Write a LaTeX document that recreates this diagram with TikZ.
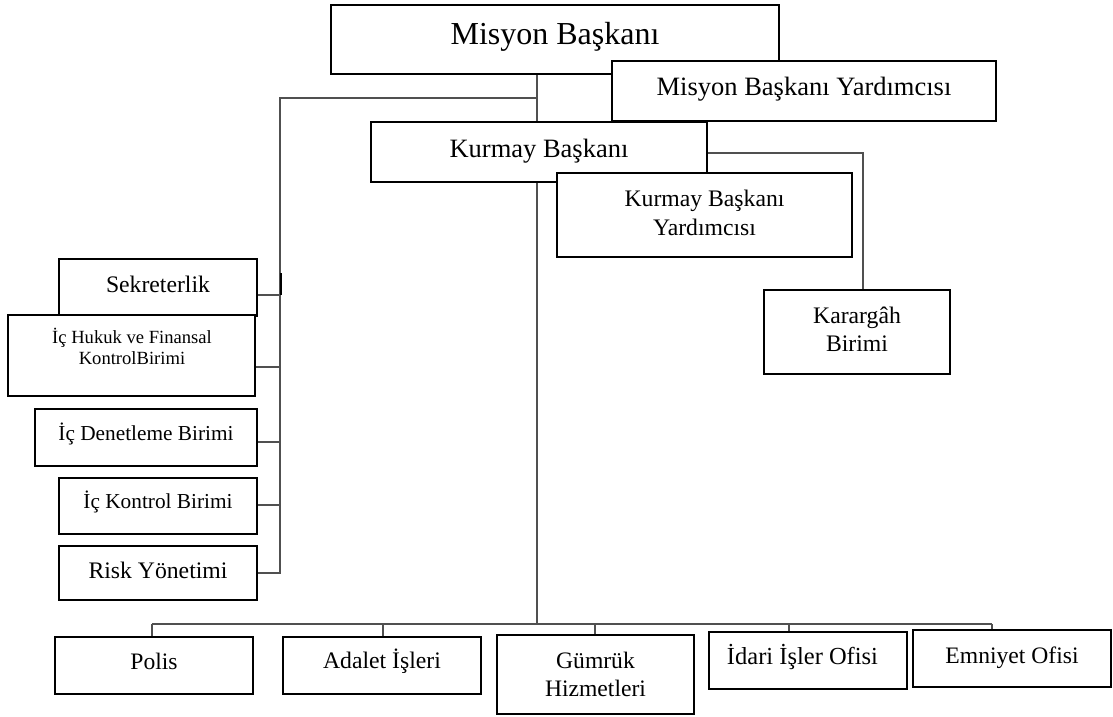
\documentclass[tikz,border=0pt]{standalone}
\usepackage{fontspec}
\setmainfont{Liberation Serif}
\usetikzlibrary{backgrounds}
\definecolor{conngray}{HTML}{505050}
\newcommand{\ubox}[5]{\node[box, minimum width={(#4-#2)*1pt}, minimum height={(#5-#3)*1pt}] (#1) at ({(#2+#4)/2},{(#3+#5)/2}) {};}
\newcommand{\fs}[1]{\fontsize{#1}{#1}\selectfont}
\begin{document}
\begin{tikzpicture}[x=1pt,y=-1pt,
  box/.style={draw=black, line width=2pt, fill=white, inner sep=0pt},
  txt/.style={inner sep=0pt, anchor=base},
  conn/.style={draw=conngray, line width=1.3pt},
  busline/.style={draw=conngray, line width=1.7pt},
  tickline/.style={draw=black, line width=1.8pt}]
\useasboundingbox (0,0) rectangle (1113,717);
% boxes
\ubox{mb}{331}{5}{779}{74}
\ubox{mby}{612}{61}{996}{121}
\ubox{kb}{371}{122}{707}{182}
\ubox{kby}{557}{173}{852}{257}
\ubox{kar}{764}{290}{950}{374}
\ubox{sek}{59}{259}{257}{316}
\ubox{ich}{8}{315}{255}{396}
\ubox{icd}{35}{409}{257}{466}
\ubox{ick}{59}{478}{257}{534}
\ubox{risk}{59}{546}{257}{600}
\ubox{pol}{55}{637}{253}{694}
\ubox{ada}{283}{637}{481}{694}
\ubox{gum}{497}{635}{694}{714}
\ubox{ida}{709}{632}{907}{689}
\ubox{emn}{913}{630}{1111}{687}
% texts
\node[txt, font=\fs{32}] (t-mb) at (555,45) {Misyon Başkanı};
\node[txt, font=\fs{26.5}] (t-mby) at (804,95) {Misyon Başkanı Yardımcısı};
\node[txt, font=\fs{26.5}] (t-kb) at (539,157) {Kurmay Başkanı};
\node[txt, font=\fs{23.7}] (t-kby1) at (704.5,206) {Kurmay Başkanı};
\node[txt, font=\fs{23.7}] (t-kby2) at (704.5,235) {Yardımcısı};
\node[txt, font=\fs{23.7}] (t-kar1) at (857,323) {Karargâh};
\node[txt, font=\fs{23.7}] (t-kar2) at (857,351) {Birimi};
\node[txt, font=\fs{23.7}] (t-sek) at (158,292) {Sekreterlik};
\node[txt, font=\fs{18.6}] (t-ich1) at (132,343) {İç Hukuk ve Finansal};
\node[txt, font=\fs{18.6}] (t-ich2) at (132,364) {KontrolBirimi};
\node[txt, font=\fs{21.3}] (t-icd) at (146,440) {İç Denetleme Birimi};
\node[txt, font=\fs{21.3}] (t-ick) at (158,508) {İç Kontrol Birimi};
\node[txt, font=\fs{23.7}] (t-risk) at (158,578) {Risk Yönetimi};
\node[txt, font=\fs{23.6}] (t-pol) at (154,669) {Polis};
\node[txt, font=\fs{23.7}] (t-ada) at (382,668) {Adalet İşleri};
\node[txt, font=\fs{23.6}] (t-gum1) at (595.5,668) {Gümrük};
\node[txt, font=\fs{23.6}] (t-gum2) at (595.5,696) {Hizmetleri};
\node[txt, font=\fs{24.5}] (t-ida) at (802.5,664) {İdari İşler Ofisi};
\node[txt, font=\fs{23.6}] (t-emn) at (1012,663) {Emniyet Ofisi};
% junction coordinates
\coordinate (cA) at (537,98);
\coordinate (cL) at (280,98);
\coordinate (s1) at (280,295);
\coordinate (s2) at (280,367);
\coordinate (s3) at (280,442);
\coordinate (s4) at (280,505);
\coordinate (k1) at (863,153);
\coordinate (bus) at (537,624);
\coordinate (d1) at (152,624);
\coordinate (d2) at (383,624);
\coordinate (d3) at (595,624);
\coordinate (d4) at (789,624);
\coordinate (d5) at (992,624);
\begin{scope}[on background layer]
\fill[white] (0,0) rectangle (1113,717);
\draw[conn] (mb.south -| cA) -- (kb.north -| cA);
\draw[conn] (cA) -- (cL) -- (cL |- risk.east) -- (risk.east);
\draw[conn] (s1) -- (s1 -| sek.east);
\draw[conn] (s2) -- (s2 -| ich.east);
\draw[conn] (s3) -- (s3 -| icd.east);
\draw[conn] (s4) -- (s4 -| ick.east);
\draw[tickline] ([xshift=1pt]s1) -- ++(0,-22);
\draw[conn] (kb.south -| cA) -- (bus);
\draw[conn] (kb.east |- k1) -- (k1) -- (k1 |- kar.north);
\draw[busline] (d1) -- (d5);
\draw[conn] (d1) -- (d1 |- pol.north);
\draw[conn] (d2) -- (d2 |- ada.north);
\draw[conn] (d3) -- (d3 |- gum.north);
\draw[conn] (d4) -- (d4 |- ida.north);
\draw[conn] (d5) -- (d5 |- emn.north);
\end{scope}
\end{tikzpicture}
\end{document}
